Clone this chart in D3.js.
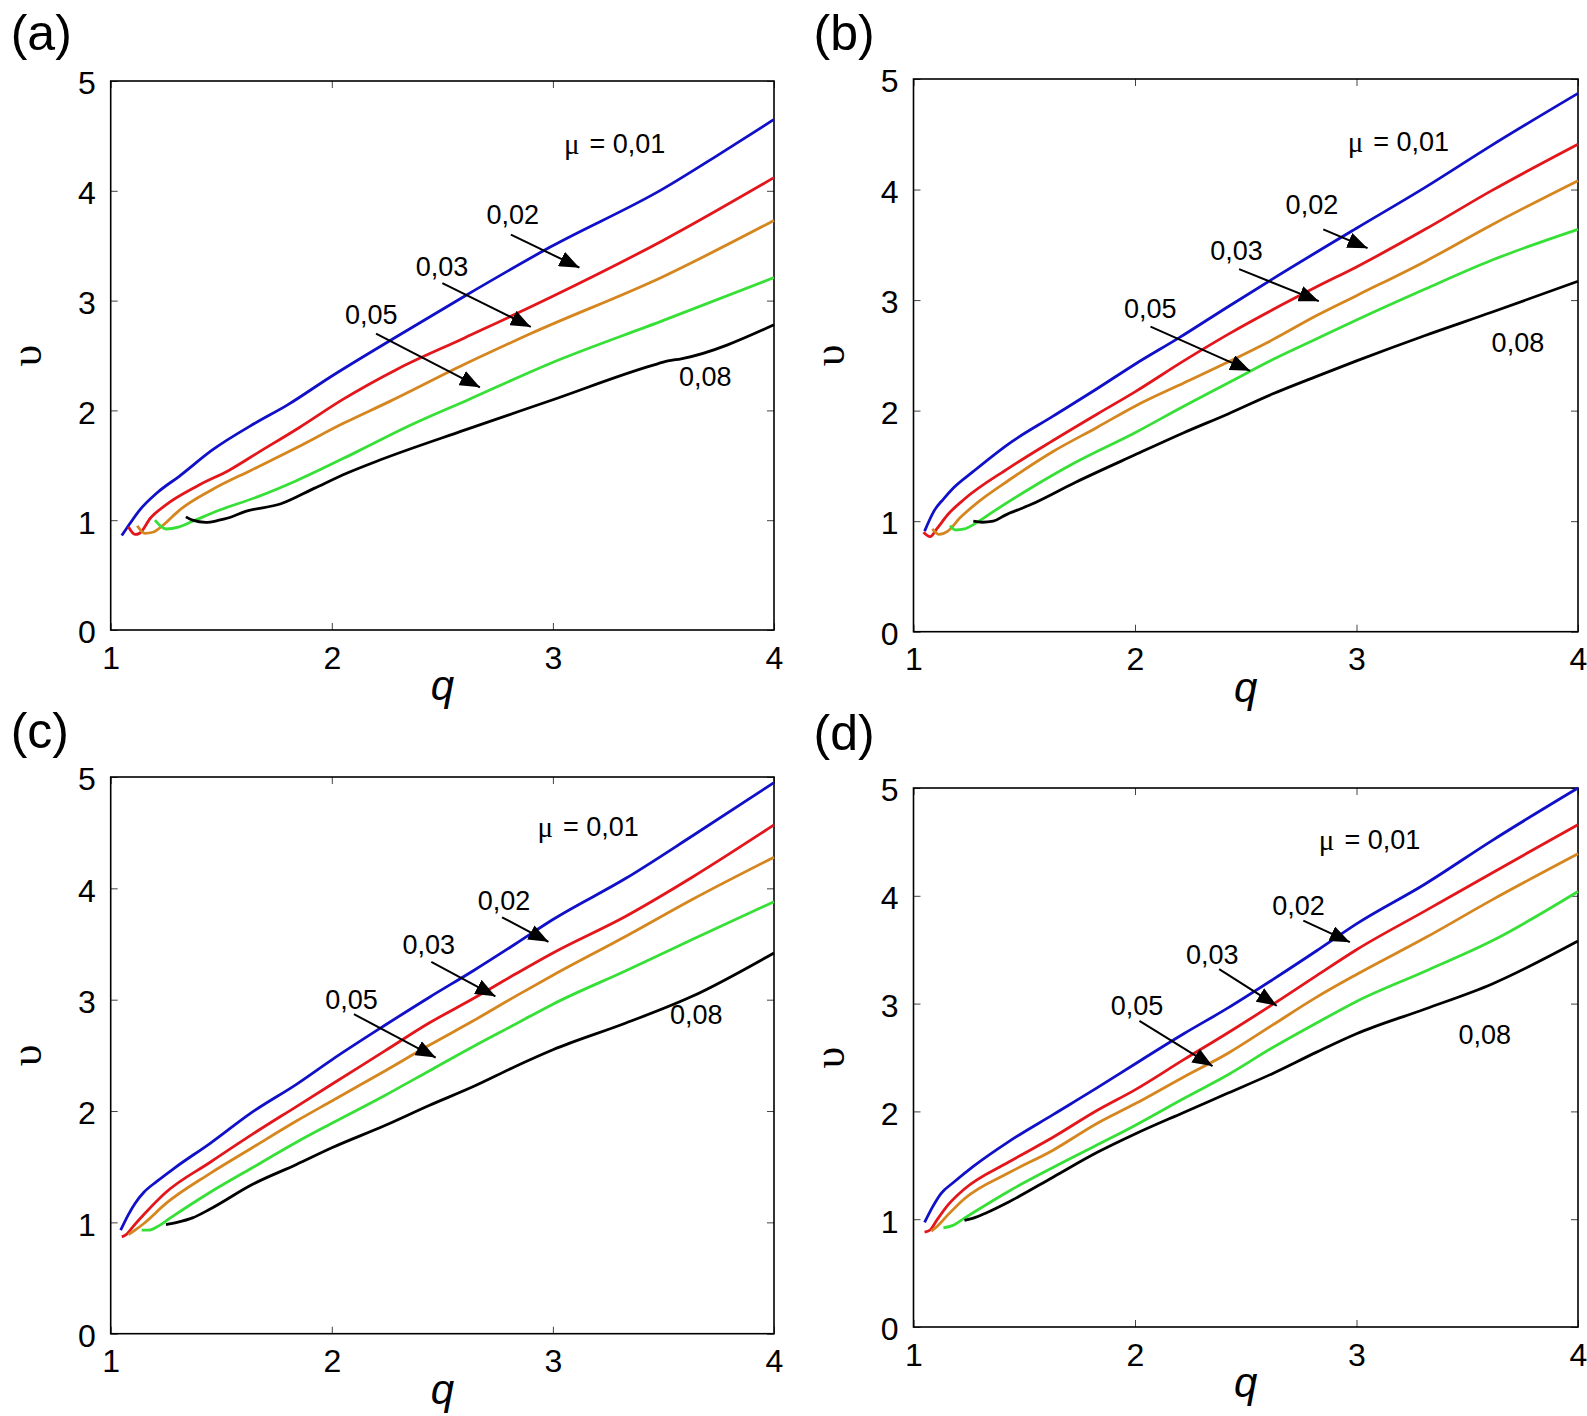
<!DOCTYPE html>
<html lang="en">
<head>
    <meta charset="UTF-8">
    <title>v versus q for several mu</title>
    <script src="https://cdnjs.cloudflare.com/ajax/libs/d3/7.8.5/d3.min.js"></script>
    <style>
        * { margin: 0; padding: 0; }
        body { background: #fff; }
        svg { display: block; font-family: "Liberation Sans", Arial, Helvetica, sans-serif; }
        .tick text { font-size: 32px; fill: #000; }
        .tick line { stroke: #444; stroke-width: 1; }
        .note { font-size: 27px; fill: #000; }
    </style>
</head>
<body>
<div id="chart"></div>
<script>
    // mu values shown in every panel, in drawing order
    const muLabels = ["0,01", "0,02", "0,03", "0,05", "0,08"];
    const xTicks = [1, 2, 3, 4];
    const yTicks = [0, 1, 2, 3, 4, 5];

    // panel (a) : [q, v]
    const a_001 = [[1.05,0.86],[1.087,0.97],[1.13,1.09],[1.21,1.25],[1.31,1.40],[1.46,1.64],[1.65,1.88],[1.8,2.05],[1.99,2.30],[2.3,2.68],[2.6,3.04],[2.99,3.49],[3.5,4.02],[3.75,4.33],[4.0,4.65]];
    const a_002 = [[1.08,0.94],[1.11,0.87],[1.13,0.88],[1.18,1.02],[1.25,1.14],[1.39,1.31],[1.54,1.46],[1.67,1.62],[1.85,1.84],[2.05,2.10],[2.3,2.38],[2.6,2.66],[2.99,3.03],[3.5,3.55],[4.0,4.12]];
    const a_003 = [[1.12,0.95],[1.155,0.88],[1.19,0.89],[1.24,0.96],[1.31,1.09],[1.46,1.28],[1.64,1.46],[1.84,1.66],[2.05,1.88],[2.26,2.08],[2.6,2.42],[2.9,2.70],[3.5,3.22],[4.0,3.73]];
    const a_005 = [[1.20,1.00],[1.25,0.92],[1.31,0.94],[1.37,0.99],[1.49,1.09],[1.66,1.21],[1.84,1.36],[2.11,1.62],[2.35,1.86],[2.62,2.10],[2.99,2.43],[3.5,2.82],[4.0,3.21]];
    const a_008 = [[1.34,1.03],[1.37,1.00],[1.43,0.98],[1.49,1.00],[1.53,1.02],[1.61,1.08],[1.77,1.15],[1.92,1.29],[2.07,1.43],[2.22,1.55],[2.6,1.82],[2.99,2.09],[3.45,2.41],[3.52,2.45],[3.58,2.47],[4.0,2.78]];

    // panel (b)
    const b_001 = [[1.05,0.91],[1.095,1.10],[1.135,1.20],[1.18,1.30],[1.27,1.45],[1.43,1.70],[1.63,1.95],[1.83,2.20],[2.0,2.42],[2.2,2.66],[2.42,2.94],[2.62,3.19],[3.0,3.65],[3.31,4.02],[3.61,4.40],[4.0,4.87]];
    const b_002 = [[1.045,0.90],[1.075,0.86],[1.105,0.93],[1.155,1.06],[1.23,1.20],[1.43,1.48],[1.63,1.73],[1.83,1.97],[2.0,2.17],[2.22,2.45],[2.42,2.69],[2.82,3.12],[3.0,3.30],[3.31,3.64],[3.61,3.99],[4.0,4.41]];
    const b_003 = [[1.085,0.93],[1.115,0.88],[1.155,0.91],[1.21,1.03],[1.29,1.17],[1.43,1.37],[1.63,1.63],[1.83,1.85],[2.0,2.04],[2.22,2.25],[2.42,2.44],[2.62,2.64],[2.82,2.86],[3.0,3.04],[3.31,3.35],[3.61,3.68],[4.0,4.08]];
    const b_005 = [[1.165,0.96],[1.19,0.92],[1.23,0.93],[1.28,0.98],[1.37,1.10],[1.53,1.30],[1.73,1.53],[2.0,1.80],[2.22,2.04],[2.42,2.25],[2.62,2.46],[2.82,2.65],[3.0,2.82],[3.31,3.10],[3.61,3.36],[4.0,3.64]];
    const b_008 = [[1.27,1.00],[1.31,0.99],[1.36,1.00],[1.41,1.05],[1.53,1.15],[1.73,1.35],[2.0,1.60],[2.22,1.80],[2.42,1.97],[2.62,2.15],[2.82,2.31],[3.0,2.45],[3.31,2.68],[3.61,2.89],[4.0,3.17]];

    // panel (c)
    const c_001 = [[1.045,0.93],[1.08,1.07],[1.11,1.17],[1.15,1.27],[1.21,1.37],[1.29,1.49],[1.45,1.71],[1.64,1.99],[1.84,2.24],[2.0,2.46],[2.24,2.77],[2.44,3.02],[2.64,3.26],[2.83,3.50],[3.0,3.72],[3.33,4.09],[3.63,4.47],[4.0,4.95]];
    const c_002 = [[1.05,0.87],[1.07,0.89],[1.10,0.96],[1.15,1.07],[1.25,1.27],[1.45,1.54],[1.64,1.79],[1.84,2.04],[2.0,2.24],[2.24,2.54],[2.44,2.79],[2.64,3.01],[2.83,3.23],[3.0,3.42],[3.33,3.75],[3.63,4.10],[4.0,4.57]];
    const c_003 = [[1.08,0.89],[1.11,0.93],[1.15,0.99],[1.25,1.17],[1.45,1.44],[1.64,1.67],[1.84,1.91],[2.0,2.09],[2.24,2.36],[2.44,2.59],[2.64,2.81],[2.83,3.03],[3.0,3.22],[3.33,3.57],[3.63,3.90],[4.0,4.28]];
    const c_005 = [[1.14,0.93],[1.17,0.93],[1.21,0.96],[1.27,1.04],[1.45,1.27],[1.64,1.49],[1.84,1.72],[2.0,1.89],[2.24,2.14],[2.44,2.36],[2.64,2.58],[2.83,2.78],[3.0,2.96],[3.33,3.26],[3.63,3.54],[4.0,3.88]];
    const c_008 = [[1.25,0.98],[1.30,1.00],[1.37,1.04],[1.45,1.12],[1.64,1.34],[1.84,1.52],[2.0,1.67],[2.24,1.87],[2.44,2.05],[2.64,2.22],[2.83,2.40],[3.0,2.55],[3.33,2.79],[3.63,3.03],[4.0,3.42]];

    // panel (d)
    const d_001 = [[1.05,0.97],[1.085,1.11],[1.125,1.24],[1.18,1.34],[1.27,1.49],[1.43,1.72],[1.63,1.97],[1.83,2.22],[2.0,2.44],[2.22,2.72],[2.42,2.96],[2.62,3.22],[2.82,3.49],[3.0,3.74],[3.31,4.11],[3.61,4.51],[4.0,5.0]];
    const d_002 = [[1.05,0.88],[1.075,0.90],[1.105,0.99],[1.155,1.13],[1.23,1.28],[1.43,1.53],[1.63,1.76],[1.83,2.01],[2.0,2.20],[2.22,2.48],[2.42,2.73],[2.62,2.99],[2.82,3.26],[3.0,3.50],[3.31,3.86],[3.61,4.21],[4.0,4.66]];
    const d_003 = [[1.08,0.89],[1.105,0.93],[1.155,1.04],[1.23,1.19],[1.43,1.43],[1.63,1.64],[1.83,1.89],[2.0,2.07],[2.22,2.32],[2.42,2.54],[2.62,2.80],[2.82,3.06],[3.0,3.27],[3.31,3.61],[3.61,3.96],[4.0,4.39]];
    const d_005 = [[1.135,0.92],[1.175,0.94],[1.23,1.01],[1.43,1.26],[1.63,1.48],[1.83,1.69],[2.0,1.87],[2.22,2.12],[2.42,2.34],[2.62,2.59],[2.82,2.82],[3.0,3.02],[3.31,3.30],[3.61,3.58],[4.0,4.04]];
    const d_008 = [[1.23,0.99],[1.27,1.01],[1.33,1.06],[1.43,1.16],[1.63,1.39],[1.83,1.62],[2.0,1.79],[2.22,1.99],[2.42,2.17],[2.62,2.35],[2.82,2.55],[3.0,2.72],[3.31,2.95],[3.61,3.18],[4.0,3.58]];

    // label anchors (q, v) per panel: mu title, 0,02 / 0,03 / 0,05 with arrows, 0,08
    const a_notes = { mu: [3.05, 4.43], l08: [3.57, 2.30],
        arrows: [{t: [2.70, 3.78], from: [2.81, 3.60], to: [3.12, 3.30]},
                 {t: [2.38, 3.31], from: [2.50, 3.16], to: [2.90, 2.76]},
                 {t: [2.06, 2.87], from: [2.20, 2.70], to: [2.67, 2.21]}] };
    const b_notes = { mu: [2.96, 4.43], l08: [3.61, 2.61],
        arrows: [{t: [2.68, 3.86], from: [2.85, 3.64], to: [3.05, 3.47]},
                 {t: [2.34, 3.44], from: [2.47, 3.28], to: [2.83, 2.99]},
                 {t: [1.95, 2.92], from: [2.07, 2.76], to: [2.52, 2.36]}] };
    const c_notes = { mu: [2.93, 4.55], l08: [3.53, 2.86],
        arrows: [{t: [2.66, 3.89], from: [2.77, 3.74], to: [2.98, 3.52]},
                 {t: [2.32, 3.49], from: [2.45, 3.34], to: [2.74, 3.03]},
                 {t: [1.97, 3.00], from: [2.10, 2.87], to: [2.47, 2.48]}] };
    const d_notes = { mu: [2.83, 4.52], l08: [3.46, 2.71],
        arrows: [{t: [2.62, 3.91], from: [2.76, 3.77], to: [2.97, 3.57]},
                 {t: [2.23, 3.45], from: [2.38, 3.32], to: [2.64, 2.98]},
                 {t: [1.89, 2.98], from: [2.02, 2.84], to: [2.35, 2.42]}] };

    const colors = ["#1010c8", "#e3161b", "#d6861e", "#36e036", "#000000"];

    const panels = [
        {tag: "(a)", box: {l: 110.7, r: 774, t: 81, b: 630},   tagY: 50,  series: [a_001, a_002, a_003, a_005, a_008], notes: a_notes},
        {tag: "(b)", box: {l: 913.5, r: 1578, t: 79, b: 631.7}, tagY: 50,  series: [b_001, b_002, b_003, b_005, b_008], notes: b_notes},
        {tag: "(c)", box: {l: 110.7, r: 774, t: 777, b: 1333.7}, tagY: 748, series: [c_001, c_002, c_003, c_005, c_008], notes: c_notes},
        {tag: "(d)", box: {l: 913.5, r: 1578, t: 788, b: 1327},  tagY: 750, series: [d_001, d_002, d_003, d_005, d_008], notes: d_notes}
    ];

    const W = 1587, H = 1416;
    const svg = d3.select("#chart").append("svg")
        .attr("width", W)
        .attr("height", H);

    svg.append("defs").append("marker")
        .attr("id", "head")
        .attr("markerUnits", "userSpaceOnUse")
        .attr("viewBox", "0 0 20 16")
        .attr("refX", 20).attr("refY", 8)
        .attr("markerWidth", 20).attr("markerHeight", 16)
        .attr("orient", "auto")
        .append("path")
        .attr("d", "M0,0 L20,8 L0,16 Z")
        .attr("fill", "#000");

    panels.forEach(p => drawPanel(p));

    function drawPanel(p) {
        const x = d3.scaleLinear().domain([1, 4]).range([p.box.l, p.box.r]);
        const y = d3.scaleLinear().domain([0, 5]).range([p.box.b, p.box.t]);
        const g = svg.append("g");

        // ticks on all four sides, pointing inward
        g.append("g")
            .attr("transform", `translate(0,${p.box.b})`)
            .call(d3.axisBottom(x).tickValues(xTicks).tickSize(-7).tickPadding(16).tickFormat(d3.format("d")))
            .call(a => a.select(".domain").remove());
        const yAxis = g.append("g")
            .attr("transform", `translate(${p.box.l},0)`)
            .call(d3.axisLeft(y).tickValues(yTicks).tickSize(-7).tickPadding(15).tickFormat(d3.format("d")))
            .call(a => a.select(".domain").remove());
        g.append("g")
            .attr("transform", `translate(0,${p.box.t})`)
            .call(d3.axisTop(x).tickValues(xTicks).tickSize(-7).tickFormat(""))
            .call(a => a.select(".domain").remove());
        g.append("g")
            .attr("transform", `translate(${p.box.r},0)`)
            .call(d3.axisRight(y).tickValues(yTicks).tickSize(-7).tickFormat(""))
            .call(a => a.select(".domain").remove());

        g.selectAll(".tick text").attr("font-family", null).attr("font-size", null);
        yAxis.selectAll(".tick text").attr("dy", "0.4em");

        g.append("rect")
            .attr("x", p.box.l).attr("y", p.box.t)
            .attr("width", p.box.r - p.box.l).attr("height", p.box.b - p.box.t)
            .attr("fill", "none").attr("stroke", "#000").attr("stroke-width", 1.6);

        const line = d3.line()
            .x(d => x(d[0]))
            .y(d => y(d[1]))
            .curve(d3.curveMonotoneX);

        g.selectAll("path.curve")
            .data(p.series)
            .enter().append("path")
            .attr("class", "curve")
            .attr("d", line)
            .attr("fill", "none")
            .attr("stroke", (d, i) => colors[i])
            .attr("stroke-width", 2.8)
            .attr("stroke-linejoin", "round");

        // annotations
        const mu = g.append("text").attr("class", "note")
            .attr("x", x(p.notes.mu[0])).attr("y", y(p.notes.mu[1]))
            .attr("dominant-baseline", "central");
        mu.append("tspan").attr("font-family", "'Liberation Serif', 'DejaVu Serif', serif").attr("font-size", 29).text("μ");
        mu.append("tspan").attr("dx", 10).text("= " + muLabels[0]);

        p.notes.arrows.forEach((a, i) => {
            g.append("text").attr("class", "note")
                .attr("x", x(a.t[0])).attr("y", y(a.t[1]))
                .attr("dominant-baseline", "central")
                .text(muLabels[i + 1]);
            g.append("line")
                .attr("x1", x(a.from[0])).attr("y1", y(a.from[1]))
                .attr("x2", x(a.to[0])).attr("y2", y(a.to[1]))
                .attr("stroke", "#000").attr("stroke-width", 2)
                .attr("marker-end", "url(#head)");
        });

        g.append("text").attr("class", "note")
            .attr("x", x(p.notes.l08[0])).attr("y", y(p.notes.l08[1]))
            .attr("dominant-baseline", "central")
            .text(muLabels[4]);

        // axis titles and panel tag
        g.append("text")
            .attr("x", (p.box.l + p.box.r) / 2).attr("y", p.box.b + 70)
            .attr("text-anchor", "middle")
            .attr("font-size", 42).attr("font-style", "italic")
            .text("q");
        const cy = (p.box.t + p.box.b) / 2;
        g.append("text")
            .attr("transform", `translate(${p.box.l - 70},${cy}) rotate(-90)`)
            .attr("text-anchor", "middle")
            .attr("font-family", "'Liberation Serif', 'DejaVu Serif', serif")
            .attr("font-size", 44)
            .text("υ");
        g.append("text")
            .attr("x", p.box.l - 100).attr("y", p.tagY)
            .attr("font-size", 50)
            .text(p.tag);
    }
</script>
</body>
</html>
